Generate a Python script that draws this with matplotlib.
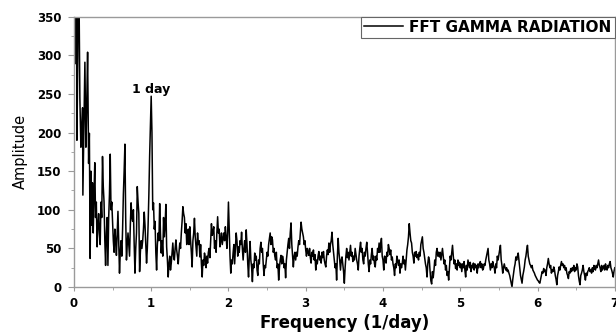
import matplotlib
matplotlib.use("Agg")
import matplotlib.pyplot as plt
import numpy as np

# spectrum
# lowest frequencies (irregular reading, the peaks run off the top)
freq_head = [0.00, 0.013, 0.026, 0.032, 0.039, 0.05, 0.06, 0.077, 0.09, 0.10,
             0.112, 0.116, 0.13, 0.142, 0.155, 0.165, 0.177, 0.19]
amp_head = [420, 500, 289, 450, 190, 300, 450, 245, 181, 200,
            232, 119, 210, 291, 181, 230, 304, 160]

# the rest on a 0.01 (1/day) grid, one list per stretch: (start frequency, amplitudes)
amp_020 = [199, 37, 150, 80, 135, 70, 120, 161, 90, 110,
           52, 80, 95, 70, 55, 110, 90, 169, 130, 110,
           60, 28, 70, 90, 28, 90, 120, 172, 100, 110,
           85, 60, 45, 75, 60, 41, 70, 98, 60, 18,
           45, 60, 40, 75, 120, 150, 185, 90, 35, 55,
           70, 55, 40, 80, 109, 90, 85, 100, 55, 18,
           50, 70, 130, 110, 95, 20, 45, 60, 50, 60,
           75, 97, 80, 55, 31, 50, 80, 120, 170, 210,
           247, 200, 100]
amp_103 = [109, 75, 85, 45, 22, 55, 70, 60, 108, 70,
           44, 60, 40, 90, 65, 80, 107, 52, 35, 13,
           30, 40, 22, 31, 45, 57, 40, 35, 50, 61,
           48, 40, 30, 45, 57, 50, 70, 85, 104, 95,
           90, 70, 82, 55, 60, 75, 55, 78, 60, 45,
           26, 60, 70, 89, 65, 52, 40, 70, 55, 60,
           39, 55, 30, 13, 35, 28, 44, 38, 25, 40,
           31, 45, 50, 38, 60, 82, 67, 72, 78, 50,
           60, 45, 70, 91, 70, 75, 52, 60, 70, 55,
           63, 70, 60, 78, 65, 50, 70, 110, 75, 40,
           18, 35, 30, 44, 55, 30, 50, 70, 60, 40,
           52, 45, 60, 55, 71, 50, 35, 50, 60, 45,
           74, 55, 30, 13, 40, 59, 35]
amp_230 = [25, 7, 30, 25, 44, 35, 40, 22, 15, 35,
           30, 50, 58, 45, 50, 30, 15, 28, 25, 35,
           45, 40, 55, 62, 70, 55, 65, 61, 45, 50,
           40, 35, 45, 25, 30, 9, 25, 35, 41, 30,
           40, 35, 25, 30, 12, 35, 45, 55, 63, 50,
           70, 83, 55, 40, 26, 40, 45, 35, 45, 40,
           52, 60, 55, 70, 84, 75, 70, 65, 55, 60,
           48, 40, 50, 45, 41, 50, 38, 31, 45, 40,
           48, 35, 42, 22, 35, 30, 40, 46, 35, 40,
           31, 45, 38, 46, 35, 30, 26, 40, 48, 42,
           57, 45, 55, 60, 71, 55, 45, 35, 25, 30,
           9, 40, 63, 45, 35, 22, 35, 39, 30, 20]
amp_350 = [5, 25, 40, 50, 38, 45, 35, 45, 54, 40,
           45, 33, 40, 35, 50, 42, 35, 30, 22, 40,
           50, 58, 45, 50, 35, 30, 45, 40, 50, 58,
           45, 30, 20, 35, 30, 42, 50, 35, 40, 30,
           26, 40, 35, 50, 45, 57, 45, 55, 63, 40,
           35, 22, 40, 38, 31, 45, 40, 55, 50, 42,
           48, 35, 39, 30, 25, 15, 30, 25, 40, 35,
           28, 35, 18, 30, 25, 31, 40, 30, 35, 22,
           35, 48, 55, 65, 82, 70, 60, 57, 45, 40,
           31, 45, 40, 46, 38, 42, 35, 45, 40, 55,
           60, 65, 50, 45, 37, 30, 25, 13, 30, 39,
           35, 20, 8]
amp_463 = [4, 20, 12, 22, 35, 28, 45, 50, 40, 45,
           39, 45, 35, 42, 50, 40, 30, 35, 22, 28,
           15, 20, 9, 25, 40, 35, 45, 54, 40, 30,
           35, 24, 30, 22, 35, 28, 32, 25, 30, 20,
           30, 25, 33, 22, 13, 28, 22, 35, 30, 25,
           32, 20, 28, 25, 31, 22, 30, 25, 28, 18,
           30, 25, 30, 33, 25, 30, 22, 24, 30, 28,
           35, 40, 45, 50, 35, 30, 22, 30, 25, 33,
           28, 25, 18, 30, 25, 40, 35, 42, 48, 54,
           35, 28, 18, 25, 30, 25, 22, 25, 20, 22,
           18, 15, 10, 5, 0, 10, 18, 25, 30, 39,
           35, 40, 44, 35, 25, 15, 10]
amp_580 = [5, 15, 20, 26, 35, 40, 48, 54, 40, 35,
           30, 28, 25, 28, 22, 20, 18, 15, 13, 11,
           9, 8, 6, 5, 10, 15, 20, 18, 24, 20,
           22, 15, 25, 30, 37, 30, 25, 28, 18, 22,
           20, 26, 22, 15, 10, 3, 15, 20, 26, 22,
           28, 33, 28, 30, 25, 28, 22, 25, 18, 15,
           11, 20, 18, 24, 20, 25, 22, 28, 20, 25,
           22, 30, 26, 15, 8, 3, 15, 18, 22, 28,
           20, 15, 9, 18, 15, 20, 22, 25, 20, 22,
           18, 25, 20, 28, 24, 22, 28, 25, 30, 35,
           28, 25, 20, 28, 22, 25, 28, 22, 30, 25,
           22, 28, 25, 30, 33, 25, 22, 18, 13, 20,
           25]
stretches = [(0.20, amp_020), (1.03, amp_103), (2.30, amp_230),
             (3.50, amp_350), (4.63, amp_463), (5.80, amp_580)]

freq = list(freq_head)
amp = list(amp_head)
for f0, vals in stretches:
    freq += list(f0 + 0.01 * np.arange(len(vals)))
    amp += vals
freq = np.array(freq)
amp = np.array(amp)

grey = "#9a9a9a"

fig = plt.figure(figsize=(6.16, 3.33), dpi=100)
ax = fig.add_axes([0.120, 0.138, 0.878, 0.812])

ax.plot(freq, amp, color="black", lw=1.1, label="FFT GAMMA RADIATION")

ax.set_xlim(0, 7)
ax.set_ylim(0, 350)
ax.set_xticks(np.arange(0, 8, 1))
ax.set_xticks(np.arange(0.5, 7, 1), minor=True)
ax.set_yticks(np.arange(0, 351, 50))
ax.set_yticks(np.arange(25, 350, 50), minor=True)

for s in ax.spines.values():
    s.set_color(grey)
    s.set_linewidth(1.0)

ax.tick_params(axis="both", which="both", direction="out", color=grey)
ax.tick_params(axis="x", which="major", length=3, pad=4)
ax.tick_params(axis="x", which="minor", length=2)
ax.tick_params(axis="y", which="major", length=4, pad=5)
ax.tick_params(axis="y", which="minor", length=2.5)
for lab in ax.get_xticklabels() + ax.get_yticklabels():
    lab.set_fontweight("bold")
    lab.set_fontsize(8.5)

ax.set_xlabel("Frequency (1/day)", fontsize=12, fontweight="bold")
ax.xaxis.set_label_coords(0.5, -0.1)
ax.set_ylabel("Amplitude", fontsize=10.5)
ax.yaxis.set_label_coords(-0.085, 0.5)

ax.text(1.0, 251, "1 day", ha="center", va="baseline", fontsize=9, fontweight="bold")

leg = ax.legend(loc="upper right", borderaxespad=0, fancybox=False, framealpha=1,
                edgecolor="#666666", handlelength=2.6, handletextpad=0.4, borderpad=0.2,
                prop={"weight": "bold", "size": 11})
leg.get_frame().set_linewidth(0.8)

fig.savefig("out.png", dpi=100)
